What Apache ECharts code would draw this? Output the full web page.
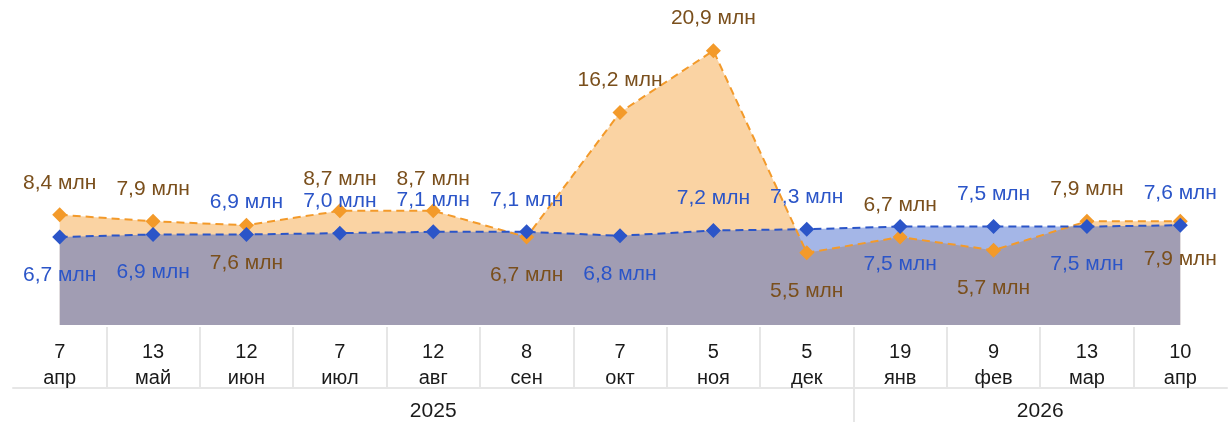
<!DOCTYPE html>
<html>
<head>
<meta charset="utf-8">
<title>Цены</title>
<script src="https://cdn.jsdelivr.net/npm/echarts@6/dist/echarts.min.js"></script>
<style>
  html, body { margin: 0; padding: 0; background: #ffffff; }
  #chart { width: 1231px; height: 422px; }
</style>
</head>
<body>
<div id="chart"></div>
<script>
// Dates (day + month) along the bottom axis
const days = ['7', '13', '12', '7', '12', '8', '7', '5', '5', '19', '9', '13', '10'];
const months = ['апр', 'май', 'июн', 'июл', 'авг', 'сен', 'окт', 'ноя', 'дек', 'янв', 'фев', 'мар', 'апр'];
// Years and how many dates each one covers
const years = ['2025', '2026'];
const yearSpans = [9, 4];

// Values, millions
const orangeValues = [8.4, 7.9, 7.6, 8.7, 8.7, 6.7, 16.2, 20.9, 5.5, 6.7, 5.7, 7.9, 7.9];
const blueValues = [6.7, 6.9, 6.9, 7.0, 7.1, 7.1, 6.8, 7.2, 7.3, 7.5, 7.5, 7.5, 7.6];

// Where each value label sits relative to its point
const orangeLabelSide = ['top', 'top', 'bottom', 'top', 'top', 'bottom', 'top', 'top', 'bottom', 'top', 'bottom', 'top', 'bottom'];
const blueLabelSide = ['bottom', 'bottom', 'top', 'top', 'top', 'top', 'bottom', 'top', 'top', 'bottom', 'top', 'bottom', 'top'];

const ORANGE = '#f39a2a';
const BLUE = '#2b55c8';
const FONT = '"Liberation Sans", Arial, sans-serif';

const dateCats = days.map((d, i) => d + '\n' + months[i]);

// Year row: half-band positions so each year label sits centred over its span
const yearCats = [];
const yearLabelIdx = {};
const separatorIdx = [];
{
  let start = 0;
  const total = yearSpans.reduce((a, b) => a + b, 0) * 2 + 1;
  for (let k = 0; k < total; k++) yearCats.push('p' + k);
  years.forEach((y, j) => {
    const mid = start * 2 + yearSpans[j];
    yearCats[mid] = y;
    yearLabelIdx[mid] = true;
    start += yearSpans[j];
    if (j < years.length - 1) separatorIdx.push(start * 2);
  });
}

const fmt = v => v.toFixed(1).replace('.', ',') + ' млн';

function lineSeries(values, sides, color, textColor) {
  return {
    type: 'line',
    xAxisIndex: 0,
    yAxisIndex: 0,
    z: 3,
    data: values.map((v, i) => ({
      value: v,
      label: { position: sides[i], distance: sides[i] === 'top' ? 14 : 20 }
    })),
    symbol: 'diamond',
    symbolSize: 15,
    itemStyle: { color: color },
    lineStyle: { color: color, width: 2, type: [8, 5] },
    label: {
      show: true,
      color: textColor,
      fontSize: 21,
      fontFamily: FONT,
      formatter: p => fmt(p.value)
    }
  };
}

function areaSeries(values, color) {
  return {
    type: 'line',
    xAxisIndex: 0,
    yAxisIndex: 0,
    z: 1,
    silent: true,
    data: values,
    symbol: 'none',
    lineStyle: { width: 0 },
    areaStyle: { color: color, opacity: 0.43 }
  };
}

const chart = echarts.init(document.getElementById('chart'));
chart.setOption({
  animation: false,
  grid: [
    { left: 13, right: 4, top: 10, height: 315 },
    { left: 13, right: 4, top: 327, height: 61 },
    { left: 13, right: 4, top: 388, height: 34 }
  ],
  xAxis: [
    { gridIndex: 0, type: 'category', data: dateCats, boundaryGap: true, show: false },
    {
      gridIndex: 1, type: 'category', data: dateCats, boundaryGap: true, position: 'top',
      axisLine: { show: false }, axisTick: { show: false },
      axisLabel: { inside: true, margin: 12, interval: 0, fontSize: 20, lineHeight: 26, color: '#1a1a1a', fontFamily: FONT },
      splitLine: { show: true, interval: 0, showMinLine: false, showMaxLine: false, lineStyle: { color: '#e6e6e6', width: 2 } }
    },
    {
      gridIndex: 2, type: 'category', data: yearCats, boundaryGap: false, position: 'top',
      axisLine: { show: true, onZero: false, lineStyle: { color: '#e6e6e6', width: 2 } }, axisTick: { show: false },
      axisLabel: {
        inside: true, margin: 13, interval: 0, fontSize: 21, color: '#1a1a1a', fontFamily: FONT,
        formatter: (v, i) => (yearLabelIdx[i] ? v : '')
      },
      splitLine: { show: true, interval: (i) => separatorIdx.indexOf(i) >= 0, lineStyle: { color: '#e6e6e6', width: 2 } }
    }
  ],
  yAxis: [
    { gridIndex: 0, type: 'value', min: 0, max: 24, show: false },
    { gridIndex: 1, type: 'value', show: false },
    { gridIndex: 2, type: 'value', show: false }
  ],
  series: [
    areaSeries(orangeValues, ORANGE),
    areaSeries(blueValues, BLUE),
    lineSeries(orangeValues, orangeLabelSide, ORANGE, '#7a4f1c'),
    lineSeries(blueValues, blueLabelSide, BLUE, BLUE)
  ]
});
</script>
</body>
</html>
